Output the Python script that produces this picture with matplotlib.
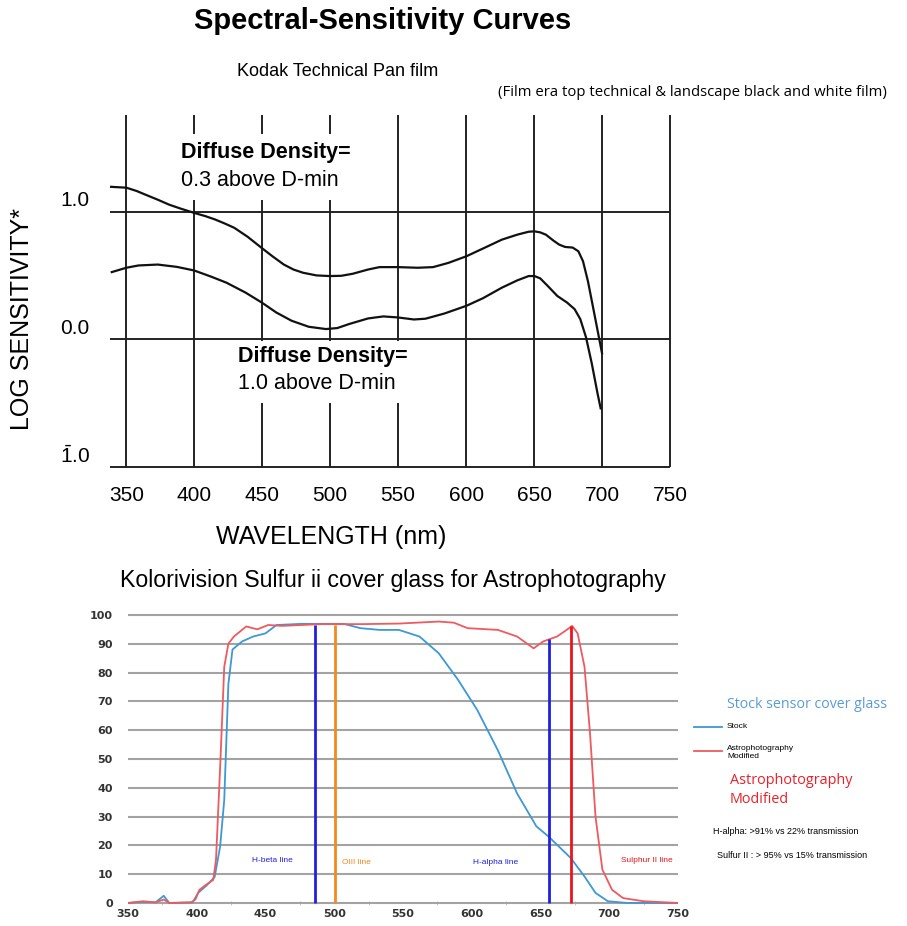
import numpy as np
import matplotlib.pyplot as plt
from matplotlib.patches import Rectangle

plt.rcParams['font.family'] = ['Liberation Sans', 'DejaVu Sans']
plt.rcParams['mathtext.fontset'] = 'custom'
plt.rcParams['mathtext.rm'] = 'Liberation Sans'

# --- Kodak Technical Pan (log sensitivity) ---
wl_low = [338, 350, 357.6, 364.6, 373.1, 381.5, 390, 399.8, 408.2, 415.3, 422.3, 429.4,
          439.2, 449.6, 457.5, 465.9, 473, 480, 489.9, 499.7, 508.1, 516.6, 527.8, 536.3,
          549.8, 564.4, 575.7, 586.9, 600.2, 612.3, 626.3, 637.6, 646, 650.3, 654.5,
          658.7, 664.3, 668.5, 672.8, 678.4, 682.6, 686, 689.6, 693.9, 700]
sens_low = [1.194, 1.187, 1.161, 1.130, 1.093, 1.054, 1.023, 0.99, 0.964, 0.938, 0.907,
            0.873, 0.803, 0.715, 0.650, 0.585, 0.546, 0.521, 0.500, 0.495, 0.497, 0.513,
            0.546, 0.565, 0.565, 0.560, 0.565, 0.598, 0.650, 0.710, 0.780, 0.819, 0.842,
            0.845, 0.837, 0.819, 0.772, 0.741, 0.723, 0.718, 0.689, 0.611, 0.456, 0.223, -0.11]
wl_high = [339.3, 350, 359, 373.1, 387.1, 399.8, 412.5, 423.7, 437.8, 449.6, 460.3, 471.6,
           484.2, 496.9, 505.3, 513.8, 527.8, 539.1, 549.8, 561.6, 570.1, 584.1, 600.2,
           612.3, 626.3, 637.6, 646, 650.3, 654.5, 660.1, 667.1, 674.2, 679.8, 684, 688.2,
           692.5, 696.7, 699]
sens_high = [0.526, 0.560, 0.578, 0.585, 0.567, 0.539, 0.490, 0.443, 0.365, 0.288, 0.210,
             0.145, 0.098, 0.080, 0.088, 0.119, 0.163, 0.179, 0.171, 0.155, 0.161, 0.202,
             0.262, 0.321, 0.404, 0.461, 0.495, 0.495, 0.477, 0.417, 0.339, 0.288, 0.236,
             0.158, 0.016, -0.192, -0.425, -0.541]
top_ticks = [350, 400, 450, 500, 550, 600, 650, 700, 750]

# --- Kolorivision cover glass transmission (%) ---
wl_stock = [350, 361, 370, 376, 380, 397, 401, 407, 413, 417, 420, 423, 426, 433, 441,
            450, 458, 476, 490, 507, 519, 533, 547, 562, 576, 590, 604, 619, 633,
            647, 656, 672, 682, 690, 699, 713, 750]
tr_stock = [0, 0.4, 0.2, 2.5, 0, 0.2, 3.5, 6, 9, 19.6, 35.8, 76, 88, 90.8, 92.5,
            93.6, 96.5, 96.9, 96.9, 96.9, 95.4, 94.8, 94.8, 92.5, 86.7, 77.5, 67, 53, 38,
            26.6, 23, 15.6, 9.2, 3.5, 0.6, 0, 0]
wl_astro = [350, 361, 370, 376, 380, 396, 399, 402, 407, 412, 414, 417, 420, 423, 427,
            436, 444, 452, 462, 476, 490, 519, 547, 576, 587, 597, 619, 633, 645, 652,
            662, 669, 673, 677, 682, 686, 690, 695, 702, 710, 725, 750]
tr_astro = [0, 0.6, 0.2, 1.2, 0, 0.2, 1.2, 4.6, 6.4, 8, 15, 47, 82, 90, 92.5,
            96, 95, 96.5, 96.2, 96.5, 96.8, 96.8, 97, 97.7, 97.3, 95.4, 94.8, 92.5, 88.4, 90.8,
            92.5, 94.8, 96.2, 93.6, 82, 59, 30, 11.6, 4.6, 1.7, 0.6, 0]
line_names = ['H-beta line', 'OIII line', 'H-alpha line', 'Sulphur II line']
line_wl = [486.1, 500.7, 656.3, 672.4]
line_top = [96.5, 96.5, 91.5, 96.2]
line_colors = ['#1f1fe0', '#f28a1e', '#1f1fe0', '#e8141e']
label_wl = [455, 516, 617, 727]
label_y = [14.9, 13.9, 13.9, 14.9]

fig = plt.figure(figsize=(9.07, 9.26), dpi=100)
W, H = 907.0, 926.0

fig.text(383 / W, 1 - 21 / H, 'Spectral-Sensitivity Curves', fontsize=21,
         fontweight='bold', ha='center', va='center')
fig.text(338 / W, 1 - 72 / H, 'Kodak Technical Pan film', fontsize=13,
         ha='center', va='center')
fig.text(692 / W, 1 - 93 / H,
         '(Film era top technical & landscape black and white film)',
         fontsize=10.7, family=['Open Sans', 'DejaVu Sans'], ha='center', va='center')

# top chart
ax1 = fig.add_axes([110 / W, 1 - 467 / H, 560 / W, 352 / H])
ax1.set_xlim(338, 750)
ax1.set_ylim(-1.0, 1.756)
for s in ax1.spines.values():
    s.set_visible(False)
ax1.vlines(top_ticks, -1.0, 1.756, color='#222222', lw=1.4, zorder=1, clip_on=False)
ax1.hlines([1.0, 0.0, -1.0], 338, 750, color='#222222', lw=1.4, zorder=1, clip_on=False)
ax1.plot(wl_low, sens_low, color='#111111', lw=1.6, zorder=4)
ax1.plot(wl_high, sens_high, color='#111111', lw=1.6, zorder=4)

# white patches behind the curve labels (they break the grid like the original)
ax1.add_patch(Rectangle((386, 1.09), 143, 0.52, facecolor='white', edgecolor='none', zorder=2))
ax1.add_patch(Rectangle((426, -0.5), 144, 0.49, facecolor='white', edgecolor='none', zorder=2))
ax1.text(390, 1.465, 'Diffuse Density=', fontsize=15.5, fontweight='bold',
         va='center', ha='left', zorder=3)
ax1.text(390, 1.245, '0.3 above D-min', fontsize=15.5, va='center', ha='left', zorder=3)
ax1.text(432, -0.135, 'Diffuse Density=', fontsize=15.5, fontweight='bold',
         va='center', ha='left', zorder=3)
ax1.text(432, -0.345, '1.0 above D-min', fontsize=15.5, va='center', ha='left', zorder=3)

ax1.set_xticks(top_ticks)
ax1.set_xticklabels([str(t) for t in top_ticks], fontsize=15)
ax1.tick_params(axis='x', length=0, pad=14)
ax1.set_yticks([])
ytxt = ['1.0', '0.0', r'$\bar{1}$.0']
for v, t in zip([1.0, 0.0, -1.0], ytxt):
    ax1.text(-0.063, v + 0.085, t, transform=ax1.get_yaxis_transform(),
             fontsize=15, ha='center', va='center')
fig.text(22 / W, 1 - 319 / H, 'LOG SENSITIVITY*', rotation=90, fontsize=18,
         ha='center', va='center')
fig.text(331 / W, 1 - 537 / H, 'WAVELENGTH (nm)', fontsize=18, ha='center', va='center')

# bottom chart
fig.text(393 / W, 1 - 580 / H, 'Kolorivision Sulfur ii cover glass for Astrophotography',
         fontsize=16.7, ha='center', va='center')
ax2 = fig.add_axes([128 / W, 1 - 904.7 / H, 550 / W, 291.5 / H])
ax2.set_xlim(350, 750)
ax2.set_ylim(-0.6, 100.6)
for s in ax2.spines.values():
    s.set_visible(False)
ax2.set_yticks(range(0, 101, 10))
ax2.set_xticks(range(350, 751, 50))
ax2.set_xticks(range(375, 751, 50), minor=True)
ax2.grid(axis='y', color='#a3a3a3', lw=1.5)
ax2.set_axisbelow(True)
ax2.tick_params(length=0, labelsize=8, labelcolor='#333333')
ax2.tick_params(axis='x', which='minor', length=3, direction='in', color='#bbbbbb')
ax2.tick_params(axis='y', pad=11)
ax2.tick_params(axis='x', which='major', pad=3)
for lab in ax2.get_xticklabels() + ax2.get_yticklabels():
    lab.set_family(['DejaVu Sans'])
    lab.set_fontweight('bold')

ax2.plot(wl_stock, tr_stock, color='#3d98d3', lw=1.3, zorder=3)
ax2.plot(wl_astro, tr_astro, color='#ee5a5f', lw=1.3, zorder=3)
for x, top, c in zip(line_wl, line_top, line_colors):
    ax2.vlines(x, 0, top, color=c, lw=2.0, zorder=4)
for name, x, y, c in zip(line_names, label_wl, label_y, line_colors):
    ax2.text(x, y, name, fontsize=6, color=c, ha='center', va='center', zorder=5)

# legend and notes on the right
fig.text(727 / W, 1 - 704 / H, 'Stock sensor cover glass', fontsize=10.2,
         family=['Open Sans', 'DejaVu Sans'], color='#5b9bd5', ha='left', va='center')
fig.add_artist(plt.Line2D([694 / W, 722 / W], [1 - 727 / H, 1 - 727 / H],
                          color='#3d98d3', lw=1.3))
fig.add_artist(plt.Line2D([694 / W, 722 / W], [1 - 751 / H, 1 - 751 / H],
                          color='#ee5a5f', lw=1.3))
fig.text(727 / W, 1 - 727 / H, 'Stock', fontsize=6, ha='left', va='center')
fig.text(727 / W, 1 - 753 / H, 'Astrophotography\nModified', fontsize=6,
         ha='left', va='center', linespacing=1.2)
fig.text(730 / W, 1 - 790 / H, 'Astrophotography\nModified', fontsize=10.4,
         family=['Open Sans', 'DejaVu Sans'], color='#e8202a', ha='left', va='center',
         linespacing=1.3)
fig.text(713 / W, 1 - 832 / H, 'H-alpha: >91% vs 22% transmission', fontsize=6.5,
         ha='left', va='center')
fig.text(717 / W, 1 - 855 / H, 'Sulfur II : > 95% vs 15% transmission', fontsize=6.5,
         ha='left', va='center')

fig.savefig('out.png', dpi=100)
